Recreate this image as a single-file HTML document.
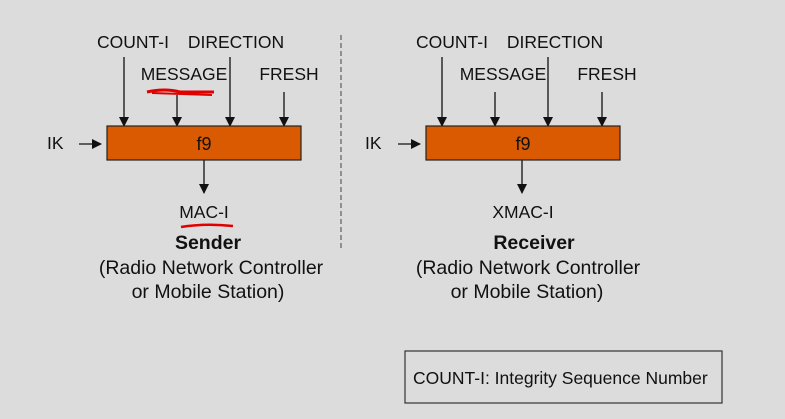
<!DOCTYPE html>
<html><head><meta charset="utf-8"><style>
html,body{margin:0;padding:0;background:#dcdcdc;}
svg{display:block;}
text{font-family:"Liberation Sans",Arial,sans-serif;fill:#111;}
</style></head><body>
<svg width="785" height="419" viewBox="0 0 785 419" xmlns="http://www.w3.org/2000/svg">
<defs>
<marker id="a" markerWidth="10" markerHeight="10" refX="9" refY="5" orient="auto" markerUnits="userSpaceOnUse">
<path d="M0,0 L10,5 L0,10 Z" fill="#111"/></marker>
</defs>
<rect width="785" height="419" fill="#dcdcdc"/>
<line x1="341" y1="35" x2="341" y2="250" stroke="#777" stroke-width="1.5" stroke-dasharray="5,3"/>

<g font-size="17.5">
<text x="133" y="48" text-anchor="middle">COUNT-I</text>
<text x="236" y="48" text-anchor="middle">DIRECTION</text>
<text x="184" y="80" text-anchor="middle">MESSAGE</text>
<text x="289" y="80" text-anchor="middle">FRESH</text>
<text x="47" y="149">IK</text>
</g>
<g stroke="#111" stroke-width="1.3">
<line x1="124" y1="57" x2="124" y2="126" marker-end="url(#a)"/>
<line x1="177" y1="95" x2="177" y2="126" marker-end="url(#a)"/>
<line x1="230" y1="57" x2="230" y2="126" marker-end="url(#a)"/>
<line x1="284" y1="92" x2="284" y2="126" marker-end="url(#a)"/>
<line x1="79" y1="144" x2="101" y2="144" marker-end="url(#a)"/>
<line x1="204" y1="160" x2="204" y2="193" marker-end="url(#a)"/>
</g>
<rect x="107" y="126" width="194" height="34" fill="#d95a00" stroke="#222" stroke-width="1.2"/>
<text x="204" y="150" font-size="18" text-anchor="middle">f9</text>
<path d="M147,92 Q165,88 180,92 L214,92" stroke="#e00000" stroke-width="3" fill="none"/>
<path d="M152,93 L212,95" stroke="#e00000" stroke-width="2" fill="none"/>
<text x="204" y="218" font-size="17.5" text-anchor="middle">MAC-I</text>
<path d="M181,227 Q205,223 233,226" stroke="#e00000" stroke-width="2.5" fill="none"/>
<text x="208" y="249" font-size="19.5" font-weight="bold" text-anchor="middle">Sender</text>
<text x="211" y="274" font-size="19.5" text-anchor="middle">(Radio Network Controller</text>
<text x="208" y="298" font-size="19.5" text-anchor="middle">or Mobile Station)</text>

<g font-size="17.5">
<text x="452" y="48" text-anchor="middle">COUNT-I</text>
<text x="555" y="48" text-anchor="middle">DIRECTION</text>
<text x="503" y="80" text-anchor="middle">MESSAGE</text>
<text x="607" y="80" text-anchor="middle">FRESH</text>
<text x="365" y="149">IK</text>
</g>
<g stroke="#111" stroke-width="1.3">
<line x1="442" y1="57" x2="442" y2="126" marker-end="url(#a)"/>
<line x1="495" y1="92" x2="495" y2="126" marker-end="url(#a)"/>
<line x1="548" y1="57" x2="548" y2="126" marker-end="url(#a)"/>
<line x1="602" y1="92" x2="602" y2="126" marker-end="url(#a)"/>
<line x1="398" y1="144" x2="420" y2="144" marker-end="url(#a)"/>
<line x1="522" y1="160" x2="522" y2="193" marker-end="url(#a)"/>
</g>
<rect x="426" y="126" width="194" height="34" fill="#d95a00" stroke="#222" stroke-width="1.2"/>
<text x="523" y="150" font-size="18" text-anchor="middle">f9</text>
<text x="523" y="218" font-size="17.5" text-anchor="middle">XMAC-I</text>
<text x="534" y="249" font-size="19.5" font-weight="bold" text-anchor="middle">Receiver</text>
<text x="528" y="274" font-size="19.5" text-anchor="middle">(Radio Network Controller</text>
<text x="527" y="298" font-size="19.5" text-anchor="middle">or Mobile Station)</text>

<rect x="405" y="351" width="317" height="52" fill="none" stroke="#333" stroke-width="1.2"/>
<text x="413" y="384" font-size="17.5">COUNT-I: Integrity Sequence Number</text>
</svg>
</body></html>
